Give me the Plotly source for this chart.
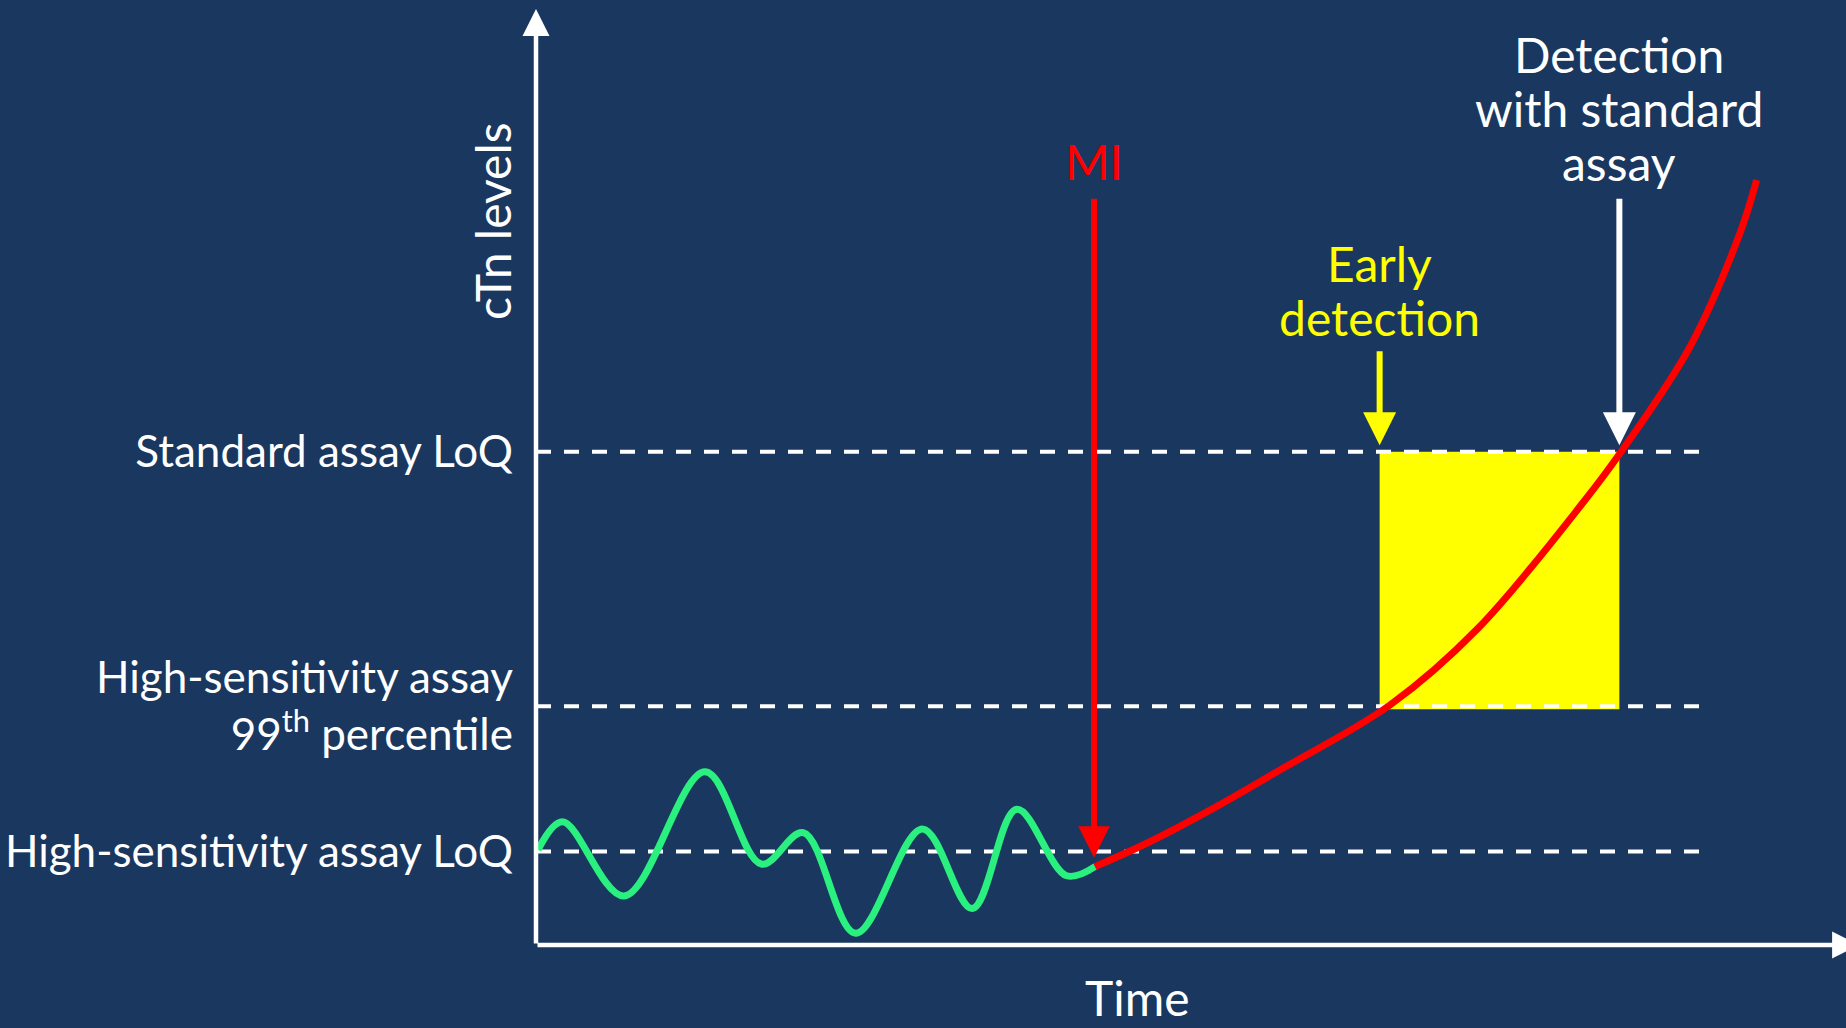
import plotly.graph_objects as go

BG = "#19375F"
GREEN = "#29F07F"
RED = "#FF0000"
YELLOW = "#FFFF00"
WHITE = "#FFFFFF"
FONT = "Lato"

# Threshold levels (arbitrary cTn units)
threshold_labels = [
    "High-sensitivity assay LoQ",
    "High-sensitivity assay<br>99<sup>th</sup> percentile",
    "Standard assay LoQ",
]
threshold_values = [10.0, 25.5, 52.7]
threshold_x = [0.0, 88.9]

# Baseline fluctuation of cTn before MI (time, level)
baseline_t = [0.15, 2.02, 6.72, 12.9, 17.2, 20.4, 24.4, 29.5, 33.3, 36.7, 40.5, 42.7]
baseline_c = [10.15, 13.17, 5.24, 18.5, 8.65, 12.0, 1.25, 12.4, 3.9, 14.5, 7.4, 8.4]

# Rise of cTn after MI (time, level)
rise_t = [42.67, 46.62, 51.7, 56.79, 65.19, 71.91, 80.08, 82.75, 88.09, 91.91, 93.18]
rise_c = [8.37, 10.87, 14.6, 18.7, 25.64, 33.84, 47.54, 52.53, 63.92, 76.07, 81.73]

# Event times
mi_time = 42.6
early_time = 64.4
standard_time = 82.7

fig = go.Figure()

for v in threshold_values:
    fig.add_trace(go.Scatter(
        x=threshold_x, y=[v, v], mode="lines",
        line=dict(color=WHITE, width=4, dash="15px,13px"),
        hoverinfo="skip", showlegend=False))

fig.add_trace(go.Scatter(
    x=baseline_t, y=baseline_c, mode="lines",
    line=dict(color=GREEN, width=7, shape="spline", smoothing=1.0),
    hoverinfo="skip", showlegend=False))

fig.add_trace(go.Scatter(
    x=rise_t, y=rise_c, mode="lines",
    line=dict(color=RED, width=7, shape="spline", smoothing=1.0),
    hoverinfo="skip", showlegend=False))

# Early detection window
fig.add_shape(type="rect", xref="x", yref="y",
              x0=early_time, x1=standard_time,
              y0=threshold_values[1] - 0.3, y1=threshold_values[2],
              fillcolor=YELLOW, line=dict(width=0), layer="below")

ann = []


def arrow(x, y, ax, ay, color, width, size):
    return dict(x=x, y=y, ax=ax, ay=ay, xref="x", yref="y", axref="x", ayref="y",
                text="", showarrow=True, arrowhead=2, arrowsize=size, arrowwidth=width,
                arrowcolor=color, standoff=0)


# axes arrows
ann.append(arrow(0, 100, 0, 0, WHITE, 4.5, 1.2))
ann.append(arrow(101, 0, 0, 0, WHITE, 4.5, 1.2))
# event arrows
ann.append(arrow(mi_time, 9.33, mi_time, 79.9, RED, 6, 1.05))
ann.append(arrow(early_time, 53.4, early_time, 63.6, YELLOW, 6, 1.1))
ann.append(arrow(standard_time, 53.4, standard_time, 79.9, WHITE, 6, 1.1))


def label(text, x, y, color, ref="data", angle=0):
    paper = ref == "paper"
    return dict(x=x, y=y, xref="paper" if paper else "x",
                yref="paper" if paper else "y",
                xanchor="center", yanchor="middle",
                text=text, showarrow=False, textangle=angle,
                font=dict(family=FONT, size=48, color=color))


ann.append(label("MI", mi_time, 83.7, RED))
ann.append(label("Early", early_time, 72.76, YELLOW))
ann.append(label("detection", early_time, 67.09, YELLOW))
ann.append(label("Detection", standard_time, 95.09, WHITE))
ann.append(label("with standard", standard_time, 89.42, WHITE))
ann.append(label("assay", standard_time, 83.65, WHITE))
ann.append(label("cTn levels", -0.0335, 0.7735, WHITE, ref="paper", angle=-90))
ann.append(label("Time", 0.4595, -0.0556, WHITE, ref="paper"))

fig.update_layout(
    width=1846, height=1028,
    margin=dict(l=536, r=0, t=9, b=83, autoexpand=False),
    paper_bgcolor=BG, plot_bgcolor=BG,
    annotations=ann,
    showlegend=False,
    xaxis=dict(range=[0, 100], showgrid=False, zeroline=False, showline=False,
               showticklabels=False, ticks="", automargin=False),
    yaxis=dict(range=[0, 100], showgrid=False, zeroline=False, showline=False,
               tickvals=threshold_values, ticktext=threshold_labels, ticks="",
               ticklabelstandoff=22, automargin=False,
               tickfont=dict(family=FONT, size=44, color=WHITE)),
)

fig.write_html("out.html")
